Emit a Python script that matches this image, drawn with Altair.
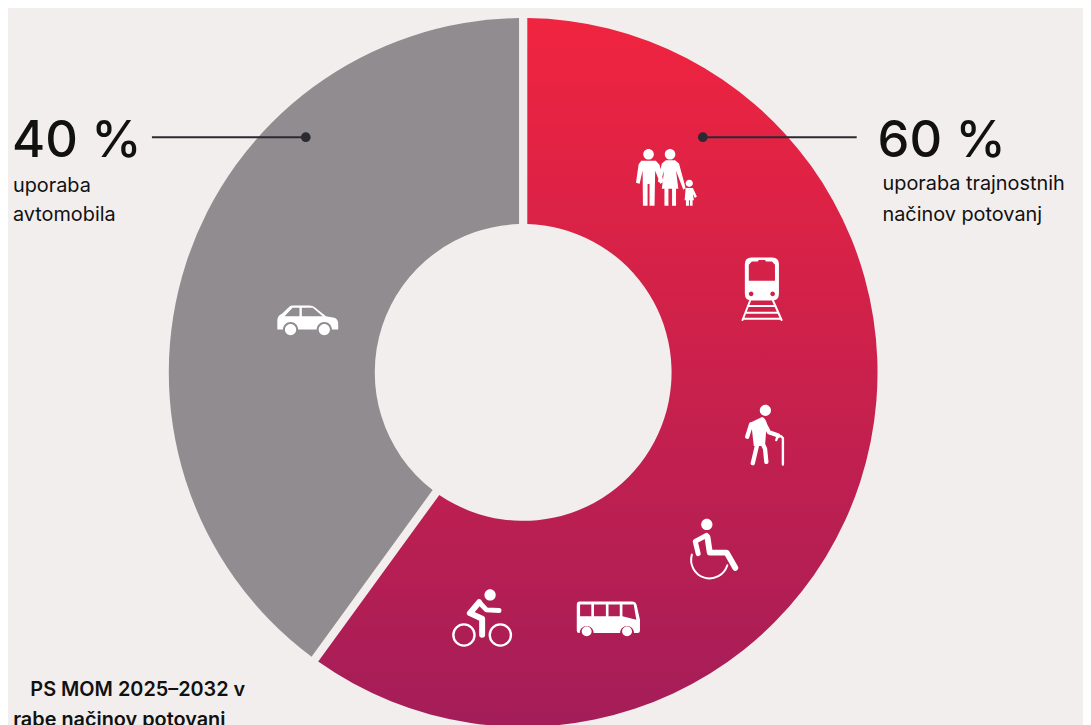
import altair as alt
import pandas as pd

# ---- data ----
shares = [60, 40]
share_names = ["uporaba trajnostnih načinov potovanj", "uporaba avtomobila"]
starts = [0, 60]
ends = [60, 100]
BG = "#f1eeed"
INK = "#2b2a33"
FONT = "Inter"
M = 8  # page margin


def circle(cx, cy, r, sweep=1):
    return (f"M{cx-r} {cy}A{r} {r} 0 1 {sweep} {cx+r} {cy}"
            f"A{r} {r} 0 1 {sweep} {cx-r} {cy}Z")


# Icons are drawn in 3x units relative to an anchor, hence size 4/9.
FAMILY_FILL = (
    circle(100, 68, 16) + circle(165, 68, 16) + circle(223, 156, 11) +
    "M78 88L122 88L133 100L145 150L136 158L120 118L118 224L103 224L103 158L97 158L97 224L83 224L82 118L73 157L62 154L70 98Z"
    "M152 86L180 86L192 96L212 170L205 175L183 118L190 172L183 172L183 224L171 224L171 172L160 172L160 224L148 224L148 172L140 172L147 118L135 155L128 150L140 96Z"
    "M212 170L234 170L246 196L240 200L234 188L237 207L233 207L233 224L225 224L225 207L222 207L222 224L213 224L213 207L209 207Z"
)
TRAIN_FILL = (
    "M411 380L474 380Q494 380 494 400L494 490Q494 510 474 510L411 510Q391 510 391 490L391 400Q391 380 411 380Z"
    "M412 392L403 402L403 450L482 450L482 402L473 392L455 392L452 388L433 388L430 392Z" +
    circle(410, 490, 7, 0) + circle(475, 490, 7, 0)
)
TRAIN_STROKE = "M407 510L384 569M476 510L502 569M400 527L484 527M393 547L492 547M386 565L500 565"

WALKER_FILL = circle(993, 62, 17) + "M950 98L983 82Q993 85 997 100L992 170L958 170Z"
WALKER_STROKE = "M972 150L955 222M978 150L992 178L996 218M950 104L938 142M990 102L1004 128L1032 138"
CANE_STROKE = "M1026 152Q1028 140 1040 140L1046 146L1046 226"

WHEEL_FILL = circle(816, 407, 17)
WHEEL_BODY = "M818 445L825 492L876 492L902 538"
WHEEL_ARM = "M815 440L781 458L790 495"
WHEEL_ARC = "M771 498A54 54 0 0 0 878 530"

BUS_FILL = (
    "M432 640L590 640Q600 640 604 650L614 695L614 728Q614 735 607 735L596 735"
    "A21 21 0 0 0 554 735L474 735A21 21 0 0 0 432 735L430 735Q423 735 423 728L423 650Q423 640 432 640Z"
    "M433 649L433 684L467 684L467 649ZM475 649L475 684L511 684L511 649Z"
    "M519 649L519 684L553 684L553 649ZM561 649L561 684L603 695L595 649Z" +
    circle(453, 730, 15) + circle(575, 730, 15)
)

BIKE_HEAD = circle(161, 620, 17)
BIKE_BODY = "M128 642L100 675L137 692L137 740"
BIKE_ARM = "M128 642L150 665L188 667"
BIKE_WHEELS = circle(82, 741, 32) + circle(192, 741, 32)

CAR_FILL = (
    "M838 658Q840 645 852 640L875 618Q878 615 885 615L935 615Q945 615 950 620L985 648L1010 652Q1022 655 1022 672L1022 688L1003 688"
    "A23 23 0 0 0 957 688L901 688A23 23 0 0 0 855 688L838 688Z"
    "M860 648L905 648L905 622L884 622ZM912 622L912 648L975 648L945 622Z" +
    circle(878, 688, 17) + circle(980, 688, 17)
)

ONE = pd.DataFrame({"k": [0]})
arcs = pd.DataFrame({"name": share_names, "share": shares, "start": starts, "end": ends})


def arc(row, fill):
    return (
        alt.Chart(arcs.iloc[[row]])
        .mark_arc(outerRadius=357, innerRadius=149.5, padAngle=0.0215, fill=fill)
        .encode(
            theta=alt.Theta("start:Q", scale=alt.Scale(domain=[0, 100])),
            theta2="end:Q",
            x=alt.value(527 - M),
            y=alt.value(372.5 - M),
        )
    )


def icon(path, ox, oy, stroke=None):
    if stroke is None:
        mark = alt.Chart(ONE).mark_point(shape=path, size=4 / 9, filled=True, fill="#ffffff",
                                         opacity=1, strokeWidth=0)
    else:
        mark = alt.Chart(ONE).mark_point(shape=path, size=4 / 9, filled=False, stroke="#ffffff",
                                         opacity=1, strokeWidth=stroke, strokeCap="round",
                                         strokeJoin="round")
    return mark.encode(x=alt.value(ox - M), y=alt.value(oy - M))


def text(s, x, y, size, weight=400, align="left", color="#111111"):
    return (
        alt.Chart(pd.DataFrame({"t": [s]}))
        .mark_text(font=FONT, fontSize=size, fontWeight=weight, align=align,
                   baseline="alphabetic", color=color)
        .encode(text="t:N", x=alt.value(x - M), y=alt.value(y - M))
    )


def leader(x1, x2, dot_x, y):
    rule = alt.Chart(ONE).mark_rule(color=INK, strokeWidth=2).encode(
        x=alt.value(x1 - M), x2=alt.value(x2 - M), y=alt.value(y - M))
    dot = alt.Chart(ONE).mark_point(shape="circle", filled=True, fill=INK, opacity=1, size=95,
                                    strokeWidth=0).encode(
        x=alt.value(dot_x - M), y=alt.value(y - M))
    return rule + dot


red = alt.Gradient(
    gradient="linear", x1=0, x2=0, y1=0, y2=1,
    stops=[alt.GradientStop(color="#f0243f", offset=0),
           alt.GradientStop(color="#a41d59", offset=1)],
)

layers = [
    arc(0, red), arc(1, "#908c8f"),
    leader(153, 308, 308, 135.5), leader(708, 863, 708, 135.5),
    icon(FAMILY_FILL, 620, 130),
    icon(TRAIN_FILL, 620, 130), icon(TRAIN_STROKE, 620, 130, 2),
    icon(WALKER_FILL, 440, 390), icon(WALKER_STROKE, 440, 390, 4.3), icon(CANE_STROKE, 440, 390, 2.4),
    icon(WHEEL_FILL, 440, 390), icon(WHEEL_BODY, 440, 390, 6), icon(WHEEL_ARM, 440, 390, 5), icon(WHEEL_ARC, 440, 390, 2),
    icon(BUS_FILL, 440, 390),
    icon(BIKE_HEAD, 440, 390), icon(BIKE_BODY, 440, 390, 6), icon(BIKE_ARM, 440, 390, 5), icon(BIKE_WHEELS, 440, 390, 2.4),
    icon(CAR_FILL, 0, 100),
    text("40 %", 12, 155, 51, 500),
    text("60 %", 884, 155, 51, 500),
    text("uporaba", 13, 191, 20),
    text("avtomobila", 13, 220, 20),
    text("uporaba trajnostnih", 889, 189, 20),
    text("načinov potovanj", 889, 220, 20),
    text("PS MOM 2025–2032 v", 247, 698, 20, 600, "right"),
    text("rabe načinov potovanj", 227, 729, 20, 600, "right"),
]

chart = alt.layer(*layers).properties(
    width=1083, height=717, background=BG, padding=0,
    autosize=alt.AutoSizeParams(type="none"),
).configure_view(stroke=None)

chart.save("out.html", embed_options={"renderer": "svg", "actions": False})
